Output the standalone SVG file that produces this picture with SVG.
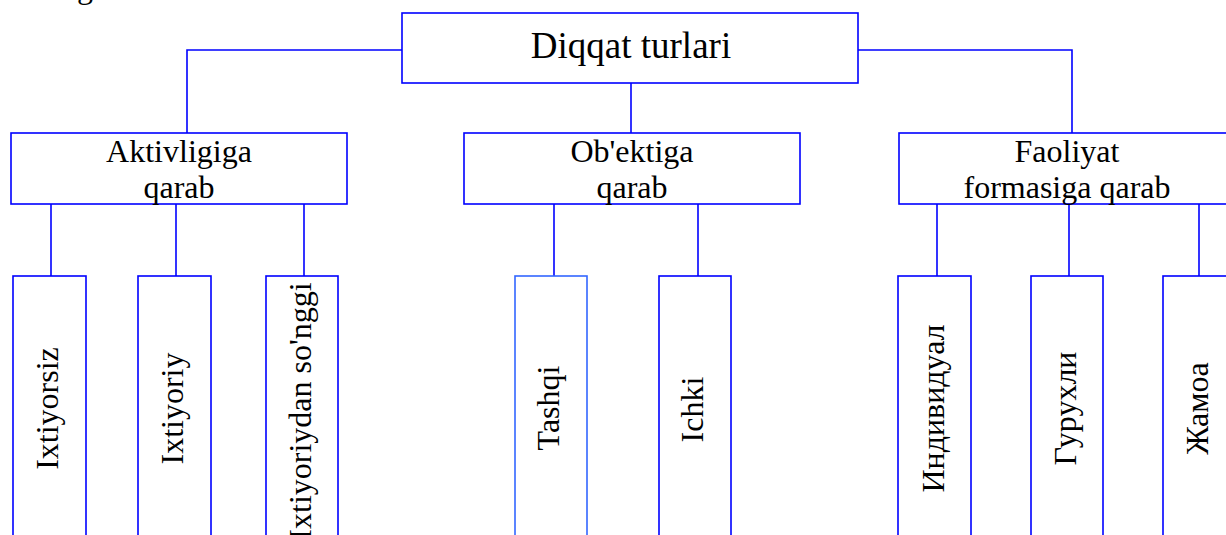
<svg xmlns="http://www.w3.org/2000/svg" width="1226" height="535" viewBox="0 0 1226 535">
<style>
.box{fill:#fff;stroke:#0000ff;stroke-width:1.6}
.box2{fill:#fff;stroke:#3366ff;stroke-width:1.6}
.con{fill:none;stroke:#0000ff;stroke-width:1.6}
text{font-family:"Liberation Serif","Times New Roman",serif;fill:#000}
.t1{font-size:37px;text-anchor:middle}
.t2{font-size:32px;text-anchor:middle}
.tv{font-size:32px;text-anchor:middle}
</style>
<rect width="1226" height="535" fill="#fff"/>
<text x="77" y="-2" style="font-size:32px">g</text>
<g id="connectors">
<polyline class="con" points="402,50 187,50 187,133"/>
<polyline class="con" points="858,50 1072,50 1072,133"/>
<line class="con" x1="631" y1="83" x2="631" y2="133"/>
<line class="con" x1="51" y1="204" x2="51" y2="276"/>
<line class="con" x1="176" y1="204" x2="176" y2="276"/>
<line class="con" x1="304" y1="204" x2="304" y2="276"/>
<line class="con" x1="554" y1="204" x2="554" y2="276"/>
<line class="con" x1="698" y1="204" x2="698" y2="276"/>
<line class="con" x1="937" y1="204" x2="937" y2="276"/>
<line class="con" x1="1069" y1="204" x2="1069" y2="276"/>
<line class="con" x1="1199" y1="204" x2="1199" y2="276"/>
</g>
<g id="root">
<rect class="box" x="402" y="13" width="456" height="70"/>
<text class="t1" x="631" y="58">Diqqat turlari</text>
</g>
<g id="aktiv">
<rect class="box" x="11" y="133" width="336" height="71"/>
<text class="t2" x="179" y="162">Aktivligiga</text>
<text class="t2" x="179" y="198">qarab</text>
</g>
<g id="obekt">
<rect class="box" x="464" y="133" width="336" height="71"/>
<text class="t2" x="632" y="162">Ob'ektiga</text>
<text class="t2" x="632" y="198">qarab</text>
</g>
<g id="faoliyat">
<rect class="box" x="899" y="133" width="336" height="71"/>
<text class="t2" x="1067" y="162">Faoliyat</text>
<text class="t2" x="1067" y="198">formasiga qarab</text>
</g>
<g id="ixtiyorsiz">
<rect class="box" x="13" y="276" width="73" height="270"/>
<text class="tv" transform="translate(58,408.5) rotate(-90)">Ixtiyorsiz</text>
</g>
<g id="ixtiyoriy">
<rect class="box" x="138" y="276" width="73" height="270"/>
<text class="tv" transform="translate(183,408.5) rotate(-90)">Ixtiyoriy</text>
</g>
<g id="ixtiyoriydan">
<rect class="box" x="266" y="276" width="72" height="270"/>
<text class="tv" transform="translate(311,411) rotate(-90)">Ixtiyoriydan so'nggi</text>
</g>
<g id="tashqi">
<rect class="box2" x="515" y="276" width="72" height="270"/>
<text class="tv" transform="translate(559,408) rotate(-90)">Tashqi</text>
</g>
<g id="ichki">
<rect class="box" x="659" y="276" width="72" height="270"/>
<text class="tv" transform="translate(703,409.5) rotate(-90)">Ichki</text>
</g>
<g id="individual">
<rect class="box" x="898" y="276" width="73" height="270"/>
<text class="tv" transform="translate(944,408.5) rotate(-90)">Индивидуал</text>
</g>
<g id="guruhli">
<rect class="box" x="1031" y="276" width="72" height="270"/>
<text class="tv" transform="translate(1076,408.5) rotate(-90)">Гурухли</text>
</g>
<g id="jamoa">
<rect class="box" x="1163" y="276" width="72" height="270"/>
<text class="tv" transform="translate(1208,408.5) rotate(-90)">Жамоа</text>
</g>
</svg>
